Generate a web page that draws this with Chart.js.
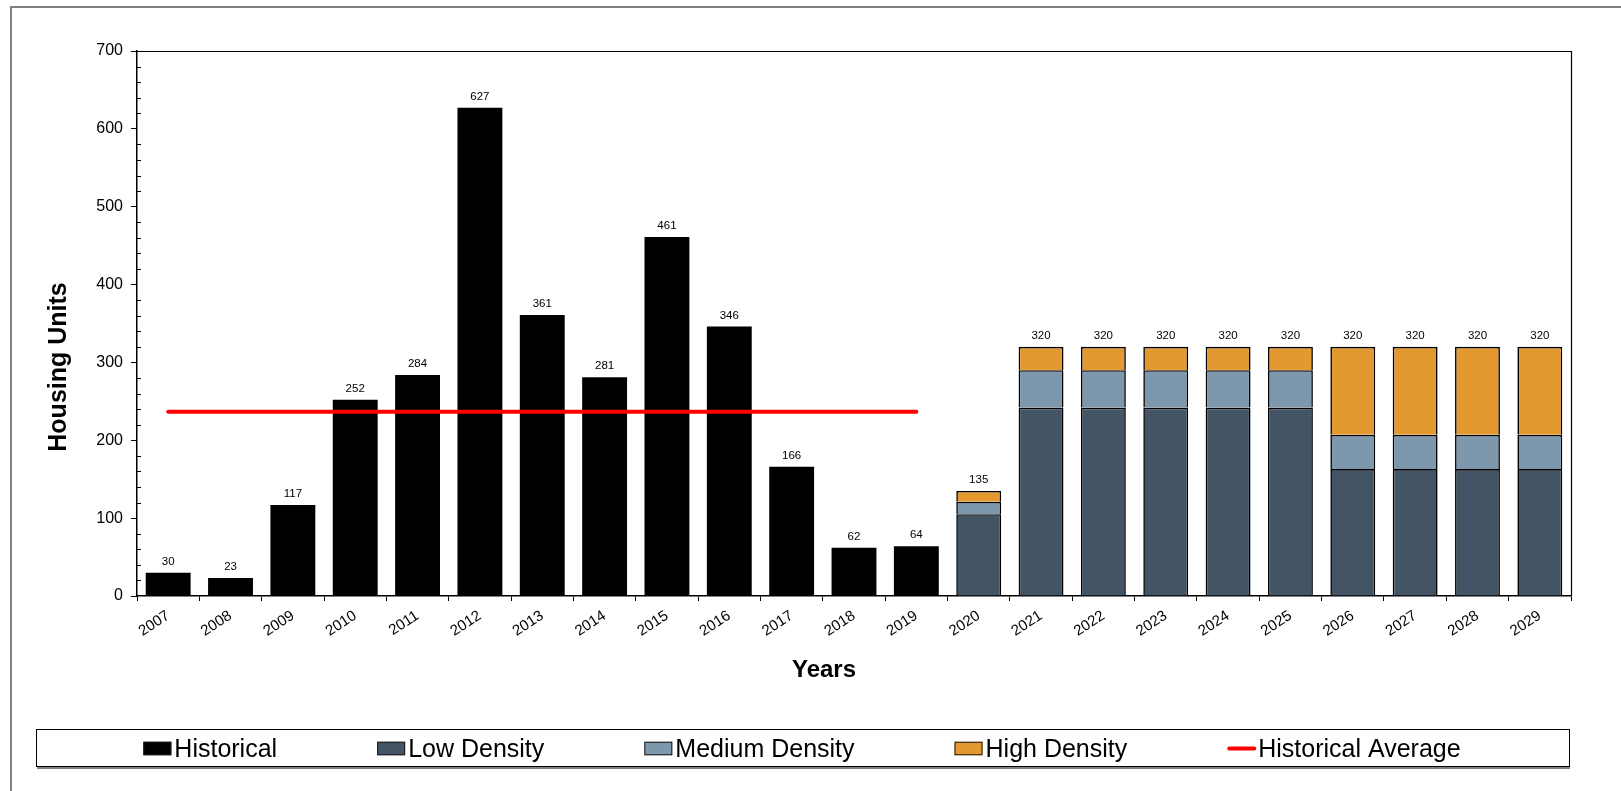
<!DOCTYPE html>
<html>
<head>
<meta charset="utf-8">
<title>Housing Units by Year</title>
<script src="https://cdn.jsdelivr.net/npm/chart.js@4/dist/chart.umd.min.js"></script>
<style>
  html, body { margin: 0; padding: 0; background: #fff; overflow: hidden; }
  #wrap { position: relative; width: 1621px; height: 791px; }
</style>
</head>
<body>
<div id="wrap"><canvas id="c" width="1621" height="791"></canvas></div>
<script>
// Categories
const years = ['2007','2008','2009','2010','2011','2012','2013','2014','2015','2016','2017','2018','2019',
               '2020','2021','2022','2023','2024','2025','2026','2027','2028','2029'];

// Completed units, 2007-2019
const historical = [30, 23, 117, 252, 284, 627, 361, 281, 461, 346, 166, 62, 64,
                    null, null, null, null, null, null, null, null, null, null];

// Projected units by density, 2020-2029
const lowDensity = [null, null, null, null, null, null, null, null, null, null, null, null, null,
                    105, 242, 242, 242, 242, 242, 163, 163, 163, 163];
const mediumDensity = [null, null, null, null, null, null, null, null, null, null, null, null, null,
                       16, 48, 48, 48, 48, 48, 44, 44, 44, 44];
const highDensity = [null, null, null, null, null, null, null, null, null, null, null, null, null,
                     14, 30, 30, 30, 30, 30, 113, 113, 113, 113];

// Average of the historical period
const historicalAverage = [236.5, 236.5, 236.5, 236.5, 236.5, 236.5, 236.5, 236.5, 236.5, 236.5, 236.5, 236.5, 236.5,
                           null, null, null, null, null, null, null, null, null, null];

// Value axis ticks
const yMin = 0, yMax = 700, yStep = 100, yMinorStep = 20;

const FONT = '"Liberation Sans", Arial, Helvetica, sans-serif';
const COLORS = {
  historical: '#000000',
  low: '#435464',
  medium: '#7d98ad',
  high: '#e3992f',
  average: '#ff0000'
};

// Page frame, plot border, minor ticks and value labels
const decorations = {
  id: 'decorations',
  beforeDraw(chart) {
    const ctx = chart.ctx;
    ctx.save();
    ctx.fillStyle = '#fff';
    ctx.fillRect(0, 0, chart.width, chart.height);
    ctx.strokeStyle = '#808080';
    ctx.lineWidth = 2;
    ctx.beginPath();
    ctx.moveTo(11, chart.height);
    ctx.lineTo(11, 7);
    ctx.lineTo(chart.width, 7);
    ctx.stroke();
    ctx.restore();
  },
  afterDatasetsDraw(chart) {
    const ctx = chart.ctx;
    const a = chart.chartArea;
    const xs = chart.scales.x, ys = chart.scales.y;
    ctx.save();
    // top and right edges of the plot box
    ctx.strokeStyle = '#000';
    ctx.lineWidth = 1.2;
    ctx.beginPath();
    ctx.moveTo(a.left, Math.round(a.top) + 0.5);
    ctx.lineTo(Math.round(a.right) + 0.5, Math.round(a.top) + 0.5);
    ctx.lineTo(Math.round(a.right) + 0.5, a.bottom);
    ctx.stroke();
    // minor ticks pointing into the plot
    ctx.lineWidth = 1;
    ctx.beginPath();
    for (let v = yMin + yMinorStep; v < yMax; v += yMinorStep) {
      if (v % yStep === 0) continue;
      const y = Math.round(ys.getPixelForValue(v)) + 0.5;
      ctx.moveTo(a.left, y);
      ctx.lineTo(a.left + 4, y);
    }
    ctx.stroke();
    // totals above each bar
    ctx.fillStyle = '#000';
    ctx.font = '11.5px ' + FONT;
    ctx.textAlign = 'center';
    ctx.textBaseline = 'alphabetic';
    years.forEach((yr, i) => {
      let total;
      if (historical[i] != null) total = historical[i];
      else total = (lowDensity[i] || 0) + (mediumDensity[i] || 0) + (highDensity[i] || 0);
      const x = xs.getPixelForValue(i);
      const y = ys.getPixelForValue(total);
      ctx.fillText(String(total), x, y - 8);
    });
    ctx.restore();
  },
  afterDraw(chart) {
    const ctx = chart.ctx;
    ctx.save();
    // axis titles
    ctx.fillStyle = '#000';
    ctx.font = 'bold 25px ' + FONT;
    ctx.textAlign = 'center';
    ctx.textBaseline = 'middle';
    ctx.save();
    ctx.translate(59, 367);
    ctx.rotate(-Math.PI / 2);
    ctx.fillText('Housing Units', 0, 0);
    ctx.restore();
    ctx.font = 'bold 24px ' + FONT;
    ctx.fillText('Years', 824, 670);

    // legend box
    const bx = 36, by = 729.5, bw = 1533, bh = 37;
    ctx.strokeStyle = '#000';
    ctx.lineWidth = 1;
    ctx.strokeRect(bx + 0.5, by, bw, bh);
    ctx.strokeStyle = '#808080';
    ctx.lineWidth = 2;
    ctx.beginPath();
    ctx.moveTo(bx + 1, by + bh + 1.5);
    ctx.lineTo(bx + bw + 1, by + bh + 1.5);
    ctx.stroke();

    // legend entries
    const sw = 28, sh = 13.5, gapText = 3, gapItem = 100;
    ctx.font = '25px ' + FONT;
    ctx.textAlign = 'left';
    ctx.textBaseline = 'alphabetic';
    const items = chart.data.datasets.map(ds => ({
      label: ds.label, type: ds.type || 'bar',
      color: ds.type === 'line' ? ds.borderColor : ds.backgroundColor
    }));
    const widths = items.map(it => sw + gapText + ctx.measureText(it.label).width);
    const total = widths.reduce((s, w) => s + w, 0) + gapItem * (items.length - 1);
    let x = 802 - total / 2;
    const cy = 748.5;
    items.forEach((it, k) => {
      if (it.type === 'line') {
        ctx.strokeStyle = it.color;
        ctx.lineWidth = 4;
        ctx.lineCap = 'round';
        ctx.beginPath();
        ctx.moveTo(x + 2, cy);
        ctx.lineTo(x + sw - 1, cy);
        ctx.stroke();
      } else {
        ctx.fillStyle = it.color;
        ctx.fillRect(x, cy - sh / 2, sw, sh);
        ctx.strokeStyle = '#1a1a1a';
        ctx.lineWidth = 1;
        ctx.strokeRect(x + 0.5, cy - sh / 2 + 0.5, sw - 1, sh - 1);
      }
      ctx.fillStyle = '#000';
      ctx.fillText(it.label, x + sw + gapText, 757);
      x += widths[k] + gapItem;
    });
    ctx.restore();
  }
};

const barCommon = {
  type: 'bar',
  stack: 'units',
  barPercentage: 0.72,
  categoryPercentage: 1.0,
  order: 1
};

new Chart(document.getElementById('c'), {
  data: {
    labels: years,
    datasets: [
      Object.assign({}, barCommon, {
        label: 'Historical', data: historical,
        backgroundColor: COLORS.historical, borderColor: '#000', borderWidth: 0
      }),
      Object.assign({}, barCommon, {
        label: 'Low Density', data: lowDensity,
        backgroundColor: COLORS.low, borderColor: '#000', borderWidth: 1.6
      }),
      Object.assign({}, barCommon, {
        label: 'Medium Density', data: mediumDensity,
        backgroundColor: COLORS.medium, borderColor: '#000', borderWidth: 1.6
      }),
      Object.assign({}, barCommon, {
        label: 'High Density', data: highDensity,
        backgroundColor: COLORS.high, borderColor: '#000', borderWidth: 1.6
      }),
      {
        type: 'line', label: 'Historical Average', data: historicalAverage,
        stack: 'average', order: 0,
        borderColor: COLORS.average, backgroundColor: COLORS.average,
        borderWidth: 4, borderCapStyle: 'round',
        pointRadius: 0, pointHoverRadius: 0, fill: false, spanGaps: false
      }
    ]
  },
  options: {
    responsive: false,
    animation: false,
    devicePixelRatio: 1,
    layout: { padding: { left: 0, right: 50, top: 51, bottom: 95 } },
    plugins: {
      legend: { display: false },
      tooltip: { enabled: false },
      title: { display: false }
    },
    scales: {
      x: {
        stacked: true,
        offset: true,
        afterFit(s) { s.height = 100; },
        border: { display: true, color: '#000', width: 1.5 },
        grid: { offset: true, drawOnChartArea: false, drawTicks: true, tickLength: 5, color: '#000', lineWidth: 1 },
        ticks: {
          autoSkip: false, minRotation: 33, maxRotation: 33, padding: 6,
          color: '#000', font: { family: FONT, size: 15 }
        }
      },
      y: {
        stacked: true,
        min: yMin, max: yMax,
        afterFit(s) { s.width = 137; },
        border: { display: true, color: '#000', width: 1.5 },
        grid: { drawOnChartArea: false, drawTicks: true, tickLength: 6, color: '#000', lineWidth: 1 },
        ticks: {
          stepSize: yStep, padding: 8,
          color: '#000', font: { family: FONT, size: 16 }
        }
      }
    }
  },
  plugins: [decorations]
});
</script>
</body>
</html>
